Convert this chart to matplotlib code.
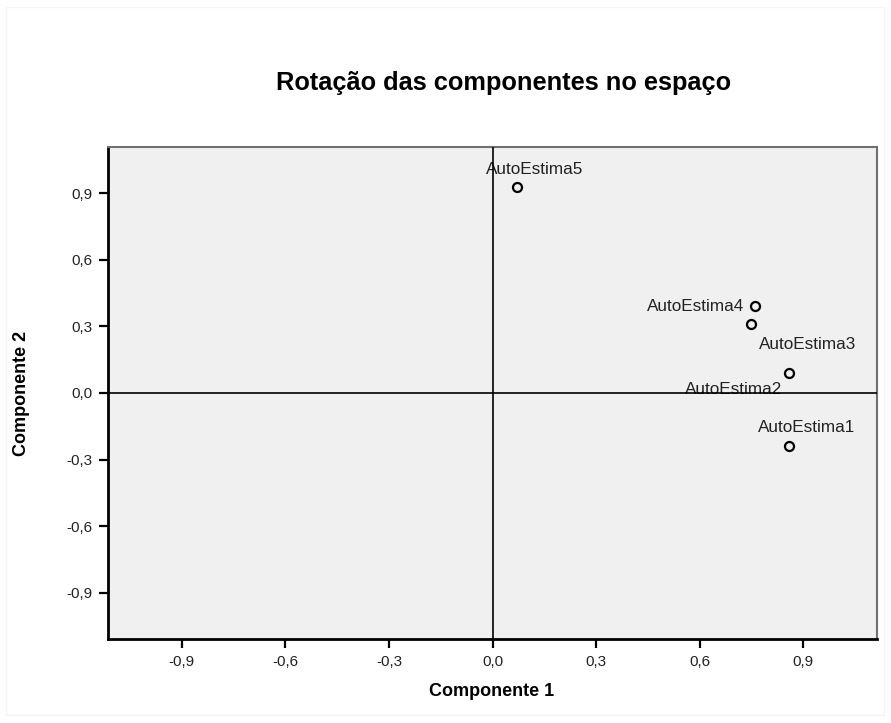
import matplotlib
matplotlib.use('Agg')
import matplotlib.pyplot as plt
from matplotlib.patches import Rectangle

# cargas das componentes rodadas
nomes = ['AutoEstima1', 'AutoEstima2', 'AutoEstima3', 'AutoEstima4', 'AutoEstima5']
comp1 = [0.86, 0.75, 0.86, 0.76, 0.07]
comp2 = [-0.24, 0.31, 0.09, 0.39, 0.93]
ticks = [-0.9, -0.6, -0.3, 0.0, 0.3, 0.6, 0.9]

# onde fica cada rotulo em relacao ao ponto (pixels)
offsets = [(17, 19), (-18, -65), (18, 29), (-11, 0), (18, 17)]
alinh = ['center', 'center', 'center', 'right', 'center']

plt.rcParams['font.family'] = ['Liberation Sans', 'DejaVu Sans']

fig = plt.figure(figsize=(8.91, 7.23), dpi=100)
fig.patches.append(Rectangle((6/891, 8/723), 878/891, 708/723, transform=fig.transFigure,
                             fill=False, edgecolor='#f5f5f5', lw=1))

ax = fig.add_axes([108/891, 1 - 639/723, 769/891, 492/723])
ax.set_facecolor('#f0f0f0')

ax.axhline(0, color='black', lw=1.2, zorder=4)
ax.axvline(0, color='black', lw=1.2, zorder=4)

ax.plot(comp1, comp2, 'o', mfc='none', mec='black', ms=6.5, mew=1.6, zorder=5)

for nome, x, y, off, ha in zip(nomes, comp1, comp2, offsets, alinh):
    ax.annotate(nome, (x, y), xytext=off, textcoords='offset pixels',
                ha=ha, va='center', fontsize=12.3, color='#222222', zorder=3)

ax.set_xlim(-1.114, 1.114)
ax.set_ylim(-1.108, 1.108)

lab = [('%.1f' % t).replace('.', ',') for t in ticks]
ax.set_xticks(ticks)
ax.set_xticklabels(lab)
ax.set_yticks(ticks)
ax.set_yticklabels(lab)
ax.tick_params(direction='out', length=6.5, width=1.6, labelsize=11,
               labelcolor='#222222', pad=5)

for s in ['left', 'bottom']:
    ax.spines[s].set_color('black')
    ax.spines[s].set_linewidth(2)
for s in ['top', 'right']:
    ax.spines[s].set_color('#707070')
    ax.spines[s].set_linewidth(1.5)

fig.text(504/891, 1 - 83/723, 'Rotação das componentes no espaço',
         ha='center', va='center', fontsize=18.3, fontweight='bold')
fig.text(492/891, 1 - 692/723, 'Componente 1', ha='center', va='center',
         fontsize=13, fontweight='bold')
fig.text(22/891, 1 - 393/723, 'Componente 2', ha='center', va='center',
         fontsize=13, fontweight='bold', rotation=90)

fig.savefig('out.png', dpi=100)
